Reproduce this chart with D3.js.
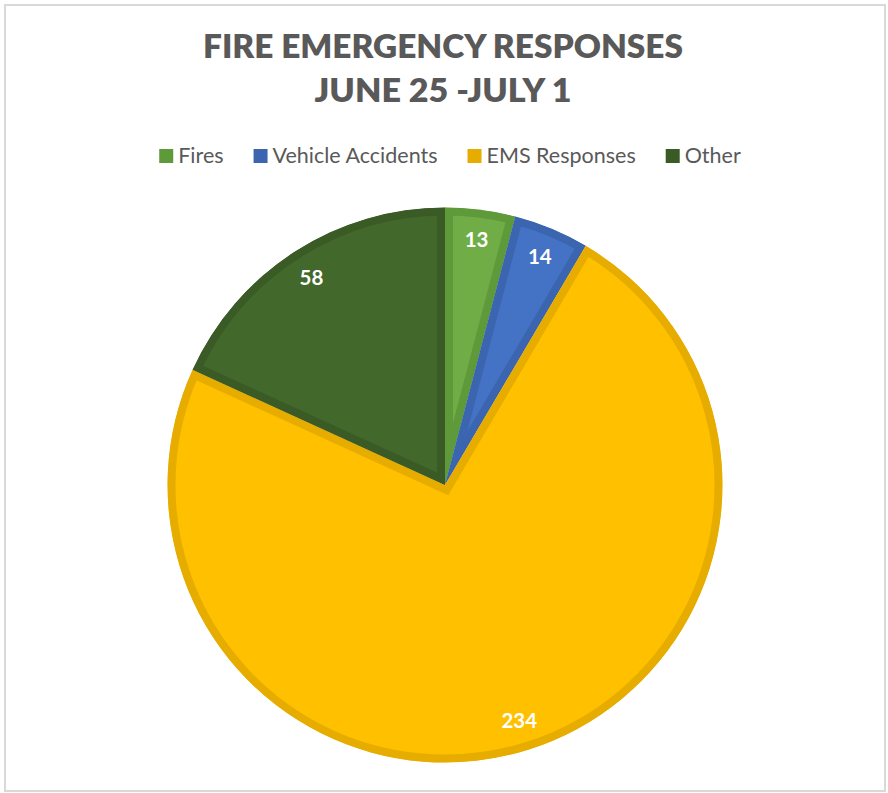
<!DOCTYPE html>
<html>
<head>
<meta charset="utf-8">
<script src="https://cdn.jsdelivr.net/npm/d3@7"></script>
<style>
  html, body { margin: 0; padding: 0; background: #fff; }
  svg { display: block; }
</style>
</head>
<body>
<svg id="chart" width="888" height="793"></svg>
<script>
const titleLines = ["FIRE EMERGENCY RESPONSES", "JUNE 25 -JULY 1"];
const categories = ["Fires", "Vehicle Accidents", "EMS Responses", "Other"];
const values = [13, 14, 234, 58];
const fillColors = ["#70AD47", "#4472C4", "#FFC000", "#43682B"];
const edgeColors = ["#5E9A3A", "#3C65B0", "#E6AC00", "#3A5B25"];

const svg = d3.select("#chart");

svg.append("rect")
  .attr("x", 5).attr("y", 5).attr("width", 880).attr("height", 786)
  .attr("fill", "#fff").attr("stroke", "#D9D9D9").attr("stroke-width", 2);

// Title
const titleFont = "Lato, 'Open Sans', sans-serif";
const titleWidths = [480, 257];
const titleBase = [57.5, 102];
titleLines.forEach((t, i) => {
  svg.append("text")
    .attr("x", 443).attr("y", titleBase[i])
    .attr("text-anchor", "middle")
    .attr("font-family", titleFont)
    .attr("font-weight", 800)
    .attr("font-size", 32)
    .attr("fill", "#595959")
    .attr("textLength", titleWidths[i])
    .attr("lengthAdjust", "spacingAndGlyphs")
    .text(t);
});

// Legend
const legendFont = 21.5;
const legend = svg.append("g");
const items = legend.selectAll("g").data(categories).join("g");
items.append("rect")
  .attr("width", 14).attr("height", 14)
  .attr("y", 149)
  .attr("fill", (d, i) => edgeColors[i]);
items.append("text")
  .attr("y", 163)
  .attr("font-family", "Lato, 'Open Sans', sans-serif")
  .attr("font-size", legendFont)
  .attr("fill", "#595959")
  .text(d => d);
let widths = [];
items.select("text").each(function () { widths.push(this.getComputedTextLength()); });
const swatch = 14, gapIn = 5, gapOut = 30;
let total = widths.reduce((a, w) => a + swatch + gapIn + w, 0) + gapOut * (widths.length - 1);
let x = 450 - total / 2;
items.each(function (d, i) {
  const g = d3.select(this);
  g.select("rect").attr("x", x);
  g.select("text").attr("x", x + swatch + gapIn);
  x += swatch + gapIn + widths[i] + gapOut;
});

// Pie
const cx = 445, cy = 485, R = 277.5, labelR = 247;
const pie = d3.pie().sort(null).value(d => d)(values);
const arc = d3.arc().innerRadius(0).outerRadius(R);
const g = svg.append("g").attr("transform", `translate(${cx},${cy})`);
const defs = svg.append("defs");
pie.forEach((p, i) => {
  defs.append("clipPath").attr("id", "clip" + i)
    .append("path").attr("d", arc(p));
});
g.selectAll("path.slice").data(pie).join("path")
  .attr("class", "slice")
  .attr("d", arc)
  .attr("fill", (d, i) => fillColors[i])
  .attr("stroke", (d, i) => edgeColors[i])
  .attr("stroke-width", 16)
  .attr("stroke-linejoin", "miter")
  .attr("clip-path", (d, i) => `url(#clip${i})`);

const labelArc = d3.arc().innerRadius(labelR).outerRadius(labelR);
g.selectAll("text.lbl").data(pie).join("text")
  .attr("class", "lbl")
  .attr("transform", d => `translate(${labelArc.centroid(d)})`)
  .attr("text-anchor", "middle")
  .attr("dy", "0.36em")
  .attr("font-family", "Lato, 'Open Sans', sans-serif")
  .attr("font-weight", 700)
  .attr("font-size", 20.5)
  .attr("fill", "#fff")
  .text(d => d.data);
</script>
</body>
</html>
